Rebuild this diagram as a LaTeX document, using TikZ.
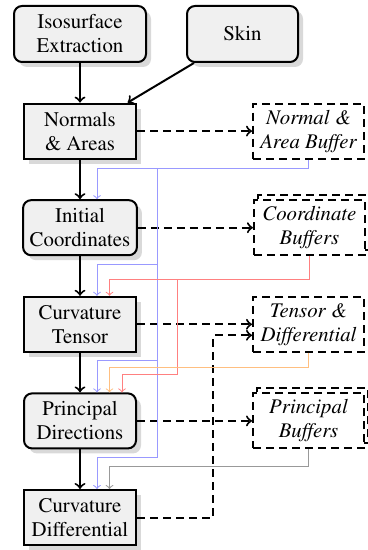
\documentclass[tikz,border=0pt]{standalone}
\usepackage[T1]{fontenc}
\usepackage{mathptmx}
\usetikzlibrary{positioning,calc,shadows}

\begin{document}
\begin{tikzpicture}[font=\fontsize{10.4}{12}\selectfont,
    node distance=19.8pt and 57.5pt,
    stage/.style={draw,line width=1pt,fill=black!6,align=center,inner ysep=3pt,minimum width=56pt,minimum height=27.5pt,
      drop shadow={shadow xshift=2.5pt,shadow yshift=-2.5pt,fill=black!15,opacity=1}},
    rstage/.style={stage,rounded corners=4pt},
    buf/.style={draw,line width=1pt,dash pattern=on 4pt off 2.5pt,fill=white,align=center,inner ysep=3pt,
      font=\fontsize{10.4}{12}\selectfont\itshape,minimum width=55.5pt,minimum height=27.5pt},
    bufs/.style={buf,copy shadow={shadow xshift=2pt,shadow yshift=2.5pt,draw,line width=1pt,dash pattern=on 4pt off 2.5pt,fill=white}},
    flow/.style={->,line width=1pt},
    wr/.style={->,line width=1pt,dash pattern=on 4pt off 2.5pt},
    nabl/.style={->,line width=0.5pt,blue!40},
    cbl/.style={->,line width=0.5pt,red!50},
    tdl/.style={->,line width=0.5pt,orange!50},
    pbl/.style={->,line width=0.5pt,black!40}]
    \useasboundingbox (0,0) rectangle (184pt,-275pt);
    % pipeline stages
    \node[rstage,minimum width=66pt,minimum height=28pt] (iso) at (40pt,-17pt) {Isosurface\\Extraction};
    \node[rstage,minimum width=55.5pt,minimum height=28pt,right=19.5pt of iso] (skin) {Skin};
    \node[stage,below=of iso] (nrm) {Normals\\\& Areas};
    \node[rstage,below=of nrm] (init) {Initial\\Coordinates};
    \node[stage,below=of init] (tens) {Curvature\\Tensor};
    \node[rstage,below=of tens] (prin) {Principal\\Directions};
    \node[stage,below=of prin] (diff) {Curvature\\Differential};
    % buffers
    \node[buf,right=of nrm] (nab) {Normal \&\\Area Buffer};
    \node[bufs,right=of init] (cb) {Coordinate\\Buffers};
    \node[buf,right=of tens] (td) {Tensor \&\\Differential};
    \node[bufs,right=of prin] (pb) {Principal\\Buffers};
    % control flow
    \draw[flow] (iso) -- (nrm);
    \draw[flow] (skin) -- (nrm);
    \foreach \a/\b in {nrm/init,init/tens,tens/prin,prin/diff}
      \draw[flow] (\a) -- (\b);
    % writes
    \foreach \a/\b in {nrm/nab,init/cb,tens/td,prin/pb}
      \draw[wr] (\a) -- (\b);
    \draw[wr] (diff.east) -- ++(38pt,0) |- ([yshift=-5.5pt]td.west);
    % reads
    \coordinate (btop) at ($(nrm.south east)+(10pt,-4.5pt)$);
    \coordinate (rtop) at ($(init.south east)+(20pt,-11.5pt)$);
    \draw[nabl] (nab.south) |- (btop) -| ([xshift=8.5pt]init.north);
    \foreach \a/\b in {init/tens,tens/prin,prin/diff}
      \draw[nabl] (btop) |- ($(\a.south)+(8.5pt,-4pt)$) -- ([xshift=8.5pt]\b.north);
    \draw[cbl] (cb.south) |- (rtop) -| ([xshift=14.75pt]tens.north);
    \draw[cbl] (rtop) |- ($(tens.south)+(21pt,-11pt)$) -- ([xshift=21pt]prin.north);
    \draw[tdl] (td.south) -- ++(0,-7.5pt) -| ([xshift=14.75pt]prin.north);
    \draw[pbl] (pb.south) -- ++(0,-8.5pt) -| ([xshift=14.75pt]diff.north);
\end{tikzpicture}
\end{document}
